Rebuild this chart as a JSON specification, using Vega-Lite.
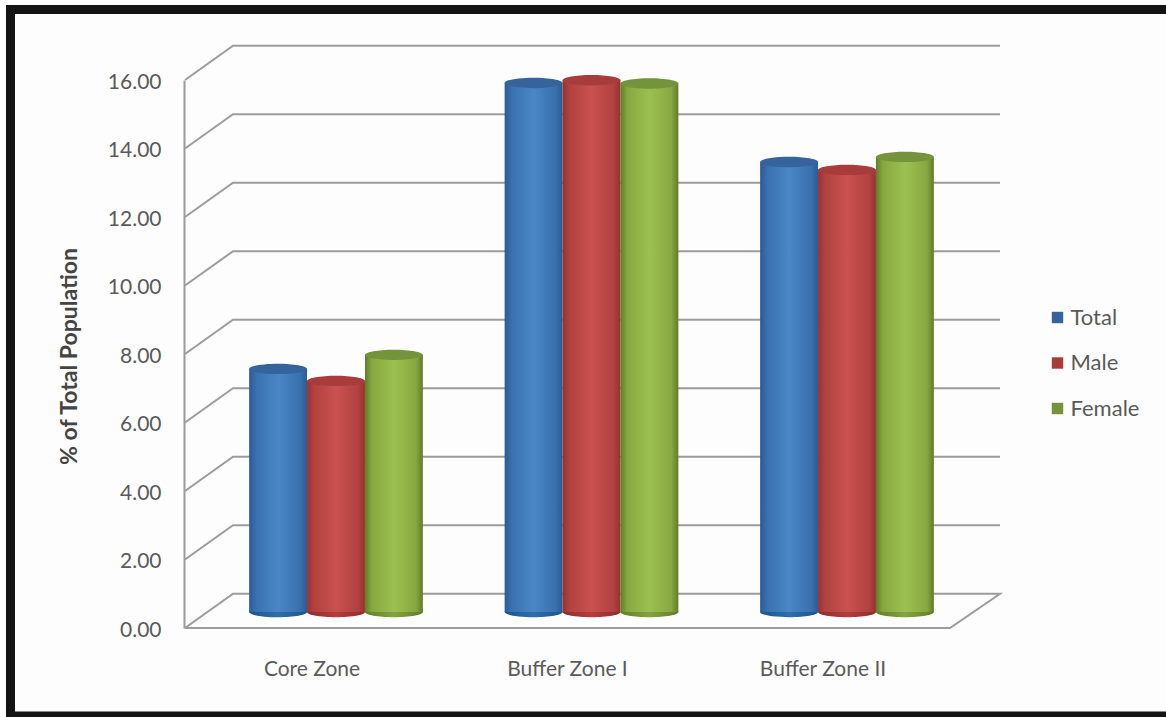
{
"$schema":"https://vega.github.io/schema/vega-lite/v6.json",
"width":1166,"height":706.5,
"autosize":{"type":"none"},
"padding":{"left":10.5,"top":9.5,"right":0,"bottom":1},
"background":"#ffffff",
"view":{"stroke":"#141414","strokeWidth":9,"fill":"#fdfdfd"},
"datasets":{
"bars":[
{"zone":"Core Zone","series":"Total","value":7.39},
{"zone":"Core Zone","series":"Male","value":7.04},
{"zone":"Core Zone","series":"Female","value":7.8},
{"zone":"Buffer Zone I","series":"Total","value":15.74},
{"zone":"Buffer Zone I","series":"Male","value":15.82},
{"zone":"Buffer Zone I","series":"Female","value":15.72},
{"zone":"Buffer Zone II","series":"Total","value":13.43},
{"zone":"Buffer Zone II","series":"Male","value":13.2},
{"zone":"Buffer Zone II","series":"Female","value":13.58}
],
"grid":[
{"level":0,"step":0,"x":185,"y":0},{"level":0,"step":1,"x":233,"y":1},{"level":0,"step":2,"x":1000,"y":1},{"level":0,"step":3,"x":950,"y":0},{"level":0,"step":4,"x":185,"y":0},
{"level":2,"step":0,"x":185,"y":2},{"level":2,"step":1,"x":233,"y":3},{"level":2,"step":2,"x":1000,"y":3},
{"level":4,"step":0,"x":185,"y":4},{"level":4,"step":1,"x":233,"y":5},{"level":4,"step":2,"x":1000,"y":5},
{"level":6,"step":0,"x":185,"y":6},{"level":6,"step":1,"x":233,"y":7},{"level":6,"step":2,"x":1000,"y":7},
{"level":8,"step":0,"x":185,"y":8},{"level":8,"step":1,"x":233,"y":9},{"level":8,"step":2,"x":1000,"y":9},
{"level":10,"step":0,"x":185,"y":10},{"level":10,"step":1,"x":233,"y":11},{"level":10,"step":2,"x":1000,"y":11},
{"level":12,"step":0,"x":185,"y":12},{"level":12,"step":1,"x":233,"y":13},{"level":12,"step":2,"x":1000,"y":13},
{"level":14,"step":0,"x":185,"y":14},{"level":14,"step":1,"x":233,"y":15},{"level":14,"step":2,"x":1000,"y":15},
{"level":16,"step":0,"x":185,"y":16},{"level":16,"step":1,"x":233,"y":17},{"level":16,"step":2,"x":1000,"y":17}
]
},
"resolve":{"scale":{"x":"independent"},"axis":{"x":"independent","y":"independent"}},
"layer":[
{
"data":{"name":"grid"},
"mark":{"type":"line","color":"#9c9c9c","strokeWidth":2,"clip":false},
"encoding":{
"x":{"field":"x","type":"quantitative","axis":null,"scale":{"domain":[0,1000],"range":[-10.5,989.5],"nice":false,"zero":false}},
"y":{"field":"y","type":"quantitative","scale":{"domain":[0,16],"range":[618.5,70.5],"nice":false},
"axis":{"values":[0,2,4,6,8,10,12,14,16],"format":".2f","offset":-173.5,"grid":false,"ticks":false,"domain":true,"domainColor":"#9c9c9c","domainWidth":2,"labelFont":"Lato","labelFontSize":21,"labelColor":"#5a5a5a","labelPadding":23,"labelOffset":2,"title":"% of Total Population","titleFont":"Lato","titleFontSize":23,"titleFontWeight":"bold","titleColor":"#444444","titleX":-103,"titleY":346.5,"titleAnchor":"middle"}},
"detail":{"field":"level"},
"order":{"field":"step"}
}
},
{
"data":{"name":"bars"},
"encoding":{
"x":{"field":"zone","type":"nominal","sort":["Core Zone","Buffer Zone I","Buffer Zone II"],
"scale":{"domain":["Core Zone","Buffer Zone I","Buffer Zone II"],"range":[197.75,964.25],"paddingInner":0.32,"paddingOuter":0.16},
"axis":{"title":null,"domain":false,"ticks":false,"labelAngle":0,"offset":-88,"labelOffset":-24,"labelPadding":30,"labelFont":"Lato","labelFontSize":21,"labelColor":"#5a5a5a"}},
"xOffset":{"field":"series","type":"nominal","scale":{"domain":["Total","Male","Female"],"paddingInner":0,"paddingOuter":0}}
},
"layer":[
{"transform":[{"filter":"datum.series==='Total'"}],
"mark":{"type":"point","filled":true,"opacity":1,"size":3364,"yOffset":-16,"shape":"M-1,0 A1,0.18,0,1,1,1,0 A1,0.18,0,1,1,-1,0 Z","fill":{"gradient":"linear","x1":0,"x2":1,"y1":0,"y2":0,"stops":[{"offset":0,"color":"#1f5486"},{"offset":0.5,"color":"#2f6eaa"},{"offset":1,"color":"#1f5486"}]}},
"encoding":{"y":{"datum":0,"type":"quantitative","scale":{"domain":[0,16],"range":[618.5,70.5],"nice":false},"axis":null}}},
{"transform":[{"filter":"datum.series==='Total'"}],
"mark":{"type":"bar","yOffset":-6,"y2Offset":-16,"fill":{"gradient":"linear","x1":0,"x2":1,"y1":0,"y2":0,"stops":[{"offset":0,"color":"#2a5c94"},{"offset":0.12,"color":"#3a70b0"},{"offset":0.5,"color":"#4a87c6"},{"offset":0.88,"color":"#3a70b0"},{"offset":1,"color":"#2a5c94"}]}},
"encoding":{"y":{"field":"value","type":"quantitative","stack":null,"scale":{"domain":[0,16],"range":[618.5,70.5],"nice":false},"axis":null},"y2":{"datum":0}}},
{"transform":[{"filter":"datum.series==='Male'"}],
"mark":{"type":"point","filled":true,"opacity":1,"size":3364,"yOffset":-16,"shape":"M-1,0 A1,0.18,0,1,1,1,0 A1,0.18,0,1,1,-1,0 Z","fill":{"gradient":"linear","x1":0,"x2":1,"y1":0,"y2":0,"stops":[{"offset":0,"color":"#8c2c2a"},{"offset":0.5,"color":"#b33e3c"},{"offset":1,"color":"#8c2c2a"}]}},
"encoding":{"y":{"datum":0,"type":"quantitative","scale":{"domain":[0,16],"range":[618.5,70.5],"nice":false},"axis":null}}},
{"transform":[{"filter":"datum.series==='Male'"}],
"mark":{"type":"bar","yOffset":-6,"y2Offset":-16,"fill":{"gradient":"linear","x1":0,"x2":1,"y1":0,"y2":0,"stops":[{"offset":0,"color":"#963230"},{"offset":0.12,"color":"#b2413f"},{"offset":0.5,"color":"#c8524f"},{"offset":0.88,"color":"#b2413f"},{"offset":1,"color":"#963230"}]}},
"encoding":{"y":{"field":"value","type":"quantitative","stack":null,"scale":{"domain":[0,16],"range":[618.5,70.5],"nice":false},"axis":null},"y2":{"datum":0}}},
{"transform":[{"filter":"datum.series==='Female'"}],
"mark":{"type":"point","filled":true,"opacity":1,"size":3364,"yOffset":-16,"shape":"M-1,0 A1,0.18,0,1,1,1,0 A1,0.18,0,1,1,-1,0 Z","fill":{"gradient":"linear","x1":0,"x2":1,"y1":0,"y2":0,"stops":[{"offset":0,"color":"#5f7d2a"},{"offset":0.5,"color":"#83a63c"},{"offset":1,"color":"#5f7d2a"}]}},
"encoding":{"y":{"datum":0,"type":"quantitative","scale":{"domain":[0,16],"range":[618.5,70.5],"nice":false},"axis":null}}},
{"transform":[{"filter":"datum.series==='Female'"}],
"mark":{"type":"bar","yOffset":-6,"y2Offset":-16,"fill":{"gradient":"linear","x1":0,"x2":1,"y1":0,"y2":0,"stops":[{"offset":0,"color":"#5f7d2a"},{"offset":0.12,"color":"#86a83f"},{"offset":0.5,"color":"#9dc052"},{"offset":0.88,"color":"#86a83f"},{"offset":1,"color":"#5f7d2a"}]}},
"encoding":{"y":{"field":"value","type":"quantitative","stack":null,"scale":{"domain":[0,16],"range":[618.5,70.5],"nice":false},"axis":null},"y2":{"datum":0}}},
{
"mark":{"type":"point","filled":true,"opacity":1,"size":3364,"yOffset":-6,"shape":"M-1,0 A1,0.18,0,1,1,1,0 A1,0.18,0,1,1,-1,0 Z"},
"encoding":{
"y":{"field":"value","type":"quantitative","stack":null,"scale":{"domain":[0,16],"range":[618.5,70.5],"nice":false},"axis":null},
"color":{"field":"series","type":"nominal","scale":{"domain":["Total","Male","Female"],"range":["#35649c","#a83c3a","#74933a"]},
"legend":{"title":null,"orient":"none","legendX":1036,"legendY":297,"symbolType":"square","symbolSize":130,"symbolStrokeWidth":0,"labelFont":"Lato","labelFontSize":22,"labelColor":"#5a5a5a","rowPadding":23.5,"labelOffset":2}}
}
}
]
}
]
}
